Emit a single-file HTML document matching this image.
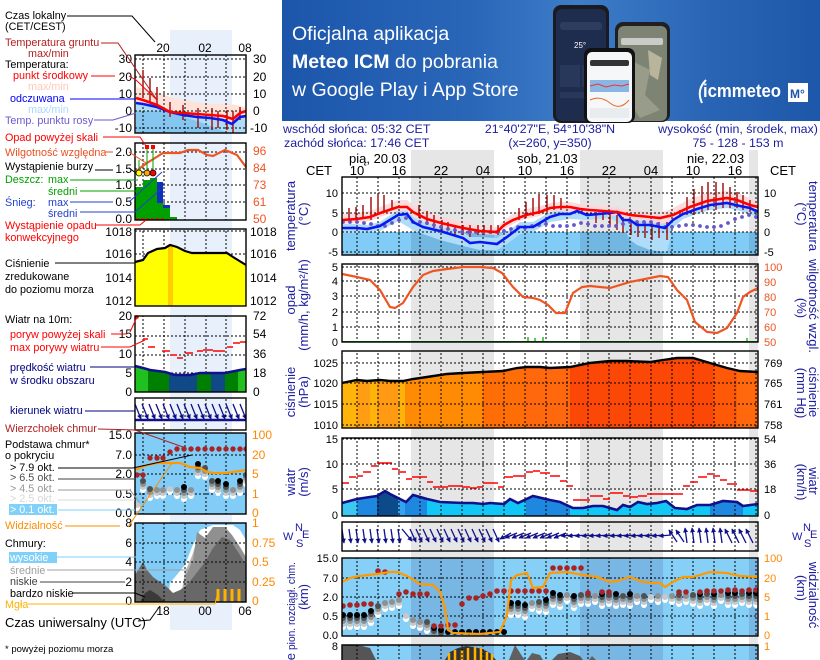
<!DOCTYPE html>
<html><head><meta charset="utf-8">
<style>
html,body{margin:0;padding:0;background:#fff;width:820px;height:660px;overflow:hidden;}
svg{display:block;}
text{font-family:"Liberation Sans",sans-serif;}
.lg{font-size:10.8px;}
.tk{font-size:11px;}
.mt{font-size:12px;}
.ax{font-size:13px;fill:#1c1ca0;}
.hd{font-size:12.4px;fill:#1c1ca0;}
</style></head><body>
<svg width="820" height="660" viewBox="0 0 820 660" xmlns="http://www.w3.org/2000/svg" overflow="hidden">
<defs>
<linearGradient id="bg" x1="0" x2="1" y1="0" y2="0">
<stop offset="0" stop-color="#1b56ab"/><stop offset="0.35" stop-color="#2a66b8"/><stop offset="0.55" stop-color="#3d7dc8"/><stop offset="0.8" stop-color="#2964b4"/><stop offset="1" stop-color="#1d57a9"/>
</linearGradient>
<marker id="ah" viewBox="0 0 8 8" refX="7" refY="4" markerWidth="5" markerHeight="5" orient="auto" markerUnits="userSpaceOnUse"><path d="M0,0L8,4L0,8z" fill="#10108a"/></marker>
<clipPath id="cP1"><rect x="342" y="177" width="416" height="78"/></clipPath>
<clipPath id="cP2"><rect x="342" y="264" width="416" height="78"/></clipPath>
<clipPath id="cP3"><rect x="342" y="351" width="416" height="77"/></clipPath>
<clipPath id="cP4"><rect x="342" y="438" width="416" height="78"/></clipPath>
<clipPath id="cP5"><rect x="342" y="522" width="416" height="29"/></clipPath>
<clipPath id="cP6"><rect x="342" y="558" width="416" height="78"/></clipPath>
<clipPath id="cP7"><rect x="342" y="645" width="416" height="15"/></clipPath>
<clipPath id="cAll">
<rect x="342" y="177" width="416" height="78"/><rect x="342" y="264" width="416" height="78"/><rect x="342" y="351" width="416" height="77"/><rect x="342" y="438" width="416" height="78"/><rect x="342" y="522" width="416" height="29"/><rect x="342" y="558" width="416" height="78"/><rect x="342" y="645" width="416" height="15"/>
</clipPath>
<clipPath id="cPress"><polygon points="342,428 342,383 357,380 367,381 380,380 390,381 403,381 413,379 427,377 447,374 463,373 483,372 503,371 517,368 527,367 540,367 550,368 570,367 590,363 610,361 627,361 650,362 663,360 677,358 693,358 710,363 727,368 740,371 758,372 758,428"/></clipPath>
<clipPath id="cWind"><polygon points="342,516 342,503 357,499 370,497 377,496 385,491 390,494 406,502 413,495 427,499 440,502 463,503 473,503 483,504 490,503 504,504 510,499 518,503 533,496 550,500 560,502 573,508 583,508 593,506 603,506 617,510 623,505 630,507 638,502 647,504 657,503 666,501 675,508 687,509 697,505 710,505 723,501 737,502 743,506 758,504 758,516"/></clipPath>
<clipPath id="cmAll">
<rect x="135" y="55" width="111" height="78"/><rect x="135" y="143" width="111" height="77"/><rect x="135" y="229" width="111" height="77"/><rect x="135" y="316" width="111" height="76"/><rect x="135" y="398" width="111" height="32"/><rect x="135" y="433" width="111" height="81"/><rect x="135" y="523" width="111" height="79"/>
</clipPath>
<clipPath id="cmT"><rect x="135" y="55" width="111" height="78"/></clipPath>
<clipPath id="cmW"><polygon points="135,392 135,366 143,368 150,370 165,372 175,375 190,375 200,373 225,373 240,370 246,369 246,392"/></clipPath>
<clipPath id="cmC"><rect x="135" y="523" width="111" height="79"/></clipPath>
<clipPath id="cmD"><rect x="135" y="398" width="111" height="32"/></clipPath>
<clipPath id="cmB"><rect x="135" y="433" width="111" height="81"/></clipPath>
<g id="s0"><circle cy="12" r="3" fill="#fff"/><circle cy="9" r="3" fill="#c8c8c8"/><circle cy="6" r="3" fill="#909090"/><circle cy="3" r="3" fill="#505050"/><circle cy="0" r="3" fill="#000"/></g>
<g id="s1"><circle cy="9" r="3" fill="#fff"/><circle cy="6" r="3" fill="#c8c8c8"/><circle cy="3" r="3" fill="#909090"/><circle cy="0" r="3" fill="#505050"/></g>
<g id="s2"><circle cy="6" r="3" fill="#fff"/><circle cy="3" r="3" fill="#c8c8c8"/><circle cy="0" r="3" fill="#909090"/></g>
<g id="s3"><circle cy="3" r="3" fill="#fff"/><circle cy="0" r="3" fill="#c8c8c8"/></g>
<g id="sb"><circle cy="0" r="3" fill="#000"/></g>
</defs>

<!-- ===== BANNER ===== -->
<rect x="282" y="0" width="538" height="121" fill="url(#bg)"/>
<text x="292" y="40" font-size="19.5" fill="#fff">Oficjalna aplikacja</text>
<text x="292" y="68" font-size="19.5" fill="#fff"><tspan font-weight="bold">Meteo ICM</tspan> do pobrania</text>
<text x="292" y="96" font-size="19.5" fill="#fff">w Google Play i App Store</text>
<rect x="553" y="5" width="56" height="118" rx="8" fill="#1b1b1f"/>
<rect x="556" y="9" width="50" height="112" rx="6" fill="#1e2d4d"/>
<rect x="560" y="22" width="42" height="8" rx="3" fill="#2d3d5e"/>
<text x="574" y="48" font-size="8" fill="#fff">25°</text>
<rect x="560" y="65" width="20" height="22" fill="#27385a"/>
<rect x="582" y="65" width="20" height="22" fill="#27385a"/>
<rect x="560" y="92" width="42" height="6" fill="#27385a"/>
<rect x="615" y="22" width="55" height="100" rx="8" fill="#202024"/>
<rect x="618" y="26" width="49" height="95" rx="6" fill="#7d8474"/>
<rect x="621" y="38" width="42" height="7" rx="2" fill="#c9cbc6"/>
<path d="M630 60 L650 70 L645 95 L660 110 L640 118 L628 100Z" fill="#9a9c8a"/>
<path d="M648 50 L662 58 L658 80 L650 75Z" fill="#b8b59a"/>
<rect x="584" y="48" width="51" height="75" rx="7" fill="#121214"/>
<rect x="587" y="52" width="45" height="70" rx="5" fill="#f6f7f9"/>
<rect x="590" y="60" width="39" height="6" rx="2" fill="#333"/>
<rect x="590" y="80" width="39" height="12" fill="#8ab6e4"/>
<path d="M590 86 L598 84 L606 87 L614 85 L622 86 L629 84" stroke="#e33" stroke-width="1" fill="none"/>
<path d="M590 100 Q600 95 610 103 T629 100" stroke="#e86a2a" stroke-width="1" fill="none"/>
<rect x="590" y="108" width="39" height="10" fill="#e8ecef"/>
<path d="M706 80 Q696 90 702 103" stroke="#fff" stroke-width="2" fill="none"/>
<text x="703" y="97" font-size="18" font-weight="bold" fill="#fff" textLength="78" lengthAdjust="spacingAndGlyphs">icmmeteo</text>
<rect x="788" y="83" width="20" height="19" fill="#fff"/>
<text x="790" y="98" font-size="12" font-weight="bold" fill="#1d57a9">M°</text>

<!-- ===== HEADER TEXT ===== -->
<text class="hd" x="283" y="133">wschód słońca: 05:32 CET</text>
<text class="hd" x="284" y="147">zachód słońca: 17:46 CET</text>
<text class="hd" x="550" y="133" text-anchor="middle">21°40'27"E, 54°10'38"N</text>
<text class="hd" x="550" y="147" text-anchor="middle">(x=260,  y=350)</text>
<text class="hd" x="738" y="133" text-anchor="middle">wysokość (min, środek, max)</text>
<text class="hd" x="738" y="147" text-anchor="middle">75 - 128 - 153 m</text>

<rect x="411" y="150" width="83" height="510" fill="#e6e6e6"/>
<rect x="580" y="150" width="83" height="510" fill="#e6e6e6"/>
<rect x="749" y="150" width="9" height="510" fill="#e6e6e6"/>

<g font-size="13" fill="#000">
<text x="349" y="163">pią, 20.03</text>
<text x="517" y="163">sob, 21.03</text>
<text x="687" y="163">nie, 22.03</text>
<text x="332" y="175" text-anchor="end">CET</text>
<text x="770" y="175">CET</text>
<g text-anchor="middle">
<text x="357" y="175">10</text><text x="399" y="175">16</text><text x="441" y="175">22</text><text x="483" y="175">04</text><text x="525" y="175">10</text><text x="567" y="175">16</text><text x="609" y="175">22</text><text x="651" y="175">04</text><text x="693" y="175">10</text><text x="735" y="175">16</text>
</g></g>

<!-- ===== P1 TEMPERATURE ===== -->
<g clip-path="url(#cP1)">
<rect x="342" y="232" width="416" height="23" fill="#80ccf6"/>
<rect x="411" y="232" width="83" height="23" fill="#72b6e2"/>
<rect x="580" y="232" width="83" height="23" fill="#72b6e2"/>
<rect x="749" y="232" width="9" height="23" fill="#72b6e2"/>
<polygon fill="#aedcf9" points="342,224 357,224 367,225 380,222 398,210 407,209 413,217 423,222 440,226 463,232 470,237 480,237 497,238 507,232 520,222 533,222 550,212 560,209 570,209 577,206 587,210 610,208 617,207 623,214 630,214 637,219 650,219 660,221 665,222 673,212 683,207 697,203 710,200 727,198 740,201 750,203 758,207 758,217 740,211 727,208 710,210 697,214 683,219 673,228 667,252 650,250 637,245 630,240 623,226 610,218 587,220 570,219 550,222 533,232 520,234 507,244 497,250 480,250 463,246 440,240 423,234 413,230 398,221 380,231 357,233 342,233"/>
<polygon fill="#ffd6d6" fill-opacity="0.85" points="342,214 357,213 370,211 383,206 398,200 407,200 413,205 427,212 441,217 463,222 480,226 497,227 504,220 513,214 526,209 540,206 550,203 560,202 570,202 580,204 590,205 617,207 630,210 650,212 660,213 673,208 690,199 707,193 727,191 737,193 750,198 758,201 758,211 750,210 737,206 727,205 707,207 690,212 673,222 660,224 650,222 630,220 617,216 590,214 580,213 560,211 550,212 540,216 526,219 513,224 504,229 497,235 480,234 463,232 441,227 427,223 413,216 407,211 398,211 383,216 370,221 357,223 342,224"/>
</g>
<g clip-path="url(#cPress)">
<rect x="342" y="351" width="15" height="77" fill="#ffb40a"/>
<rect x="357" y="351" width="13" height="77" fill="#ff9e12"/>
<rect x="370" y="351" width="7" height="77" fill="#ffb40a"/>
<rect x="377" y="351" width="21" height="77" fill="#ff9a12"/>
<rect x="398" y="351" width="7" height="77" fill="#ffb20a"/>
<rect x="405" y="351" width="78" height="77" fill="#ff8a04"/>
<rect x="483" y="351" width="43" height="77" fill="#ff6e06"/>
<rect x="526" y="351" width="44" height="77" fill="#ff680c"/>
<rect x="570" y="351" width="143" height="77" fill="#fb4806"/>
<rect x="713" y="351" width="24" height="77" fill="#ff5806"/>
<rect x="737" y="351" width="21" height="77" fill="#ff680c"/>
</g>
<g clip-path="url(#cWind)">
<rect x="342" y="438" width="416" height="78" fill="#12c6f6"/>
<rect x="342" y="438" width="15" height="78" fill="#3cc8f2"/>
<rect x="357" y="438" width="20" height="78" fill="#1e88e0"/>
<rect x="377" y="438" width="21" height="78" fill="#0c4a8c"/>
<rect x="398" y="438" width="7" height="78" fill="#34a4ee"/>
<rect x="405" y="438" width="22" height="78" fill="#1e88e0"/>
<rect x="526" y="438" width="44" height="78" fill="#1e88e0"/>
<rect x="710" y="438" width="33" height="78" fill="#1e88e0"/>
</g>
<rect x="342" y="558" width="416" height="78" fill="#86cff7"/>
<rect x="411" y="558" width="83" height="78" fill="#78b6e4"/>
<rect x="580" y="558" width="83" height="78" fill="#78b6e4"/>
<rect x="749" y="558" width="9" height="78" fill="#78b6e4"/>
<rect x="342" y="645" width="416" height="15" fill="#86cff7"/>
<rect x="411" y="645" width="83" height="15" fill="#78b6e4"/>
<rect x="580" y="645" width="83" height="15" fill="#78b6e4"/>
<rect x="749" y="645" width="9" height="15" fill="#78b6e4"/>
<g clip-path="url(#cP7)">
<polygon fill="#555" points="342,660 342,646 350,645 362,646 370,648 376,660"/>
<polygon fill="#333" points="445,660 450,652 458,648 466,646 474,647 482,649 490,653 496,660"/>
<path d="M449 653V660M455 650V660M462 650V660M468 648V660M475 647V660M481 648V660M487 652V660M492 654V660" stroke="#ffb000" stroke-width="2.5"/>
<polygon fill="#606060" points="509,660 515,645 522,656 525,660"/>
<polygon fill="#606060" points="527,660 532,653 540,655 543,660"/>
<polygon fill="#5a5a5a" points="552,660 558,654 570,652 580,656 583,660"/>
<polygon fill="#606060" points="589,660 592,656 596,660"/>
</g>

<g clip-path="url(#cAll)" stroke="#000" stroke-width="1" stroke-dasharray="2,2" fill="none">
<path d="M357 177V660M378 177V660M399 177V660M420 177V660M441 177V660M462 177V660M483 177V660M504 177V660M525 177V660M546 177V660M567 177V660M588 177V660M609 177V660M630 177V660M651 177V660M672 177V660M693 177V660M714 177V660M735 177V660M756 177V660"/>
<path d="M342 193H758M342 213H758M342 232H758M342 252H758M342 267H758M342 281H758M342 296H758M342 312H758M342 327H758M342 363H758M342 383H758M342 404H758M342 425H758M342 439H758M342 464H758M342 489H758M342 578H758M342 597H758M342 616H758"/>
</g>

<g clip-path="url(#cP1)">
<path d="M349 208V220M356 207V219M363 205V218M371 197V220M378 194V213M384 195V212M392 200V210M419 205V218M427 211V225M434 215V228M442 220V232M448 222V230M455 225V235M463 225V235M470 225V237M478 225V235M484 225V235M491 225V234M498 225V235M519 208V220M526 202V218M533 198V216M539 194V214M547 195V212M554 195V210M561 198V210M582 208V213M596 212V223M603 212V220M610 213V227M617 215V230M623 217V233M631 220V235M638 222V237M645 222V238M652 223V240M659 222V238M667 222V240M680 210V215M687 197V215M694 189V215M702 186V212M708 182V210M716 182V210M723 183V208M730 187V208M737 192V208M743 195V210M750 200V212" stroke="#a51515" stroke-width="1.5"/>
<path d="M343 222h0M350 222h0M357 222h0M364 223h0M371 224h0M378 226h0M385 226h0M392 223h0M399 220h0M406 218h0M413 222h0M420 222h0M427 223h0M434 225h0M441 227h0M448 229h0M455 230h0M462 232h0M469 232h0M476 232h0M483 232h0M490 232h0M497 232h0M504 231h0M511 229h0M518 227h0M525 228h0M532 226h0M539 225h0M546 224h0M553 226h0M560 226h0M567 226h0M574 225h0M581 223h0M588 224h0M595 226h0M602 226h0M609 226h0M616 226h0M623 224h0M630 222h0M637 222h0M644 222h0M651 222h0M658 224h0M665 227h0M672 227h0M679 226h0M686 225h0M693 225h0M700 226h0M707 227h0M714 227h0M721 226h0M728 223h0M735 219h0M742 217h0M749 215h0M756 217h0" stroke="#6655cc" stroke-width="3.8" stroke-linecap="round"/>
<polyline fill="none" stroke="#0a18f0" stroke-width="2.6" points="342,228 357,228 367,229 380,226 398,215 407,214 413,222 423,227 440,231 463,238 470,243 480,242 497,244 507,237 520,227 533,227 550,217 560,214 570,214 577,211 587,215 610,213 617,212 623,220 630,220 637,225 650,225 660,227 665,228 673,220 683,214 697,209 710,205 727,203 740,206 750,208 758,212"/>
<polyline fill="none" stroke="#ff0000" stroke-width="2.6" points="342,220 357,219 370,217 383,212 398,207 407,207 413,212 427,219 441,223 463,228 480,231 497,232 504,225 513,220 526,215 540,212 550,208 560,207 570,207 580,209 590,210 617,212 630,215 650,217 660,218 673,215 690,207 707,201 727,198 737,200 750,205 758,207"/>
</g>

<g clip-path="url(#cP2)">
<path d="M342 341.5H758" stroke="#00a000" stroke-width="1"/>
<path d="M528 337V342M535 338V342M543 337V342M747 338V342" stroke="#00a000" stroke-width="1.2"/>
<polyline fill="none" stroke="#ee5522" stroke-width="2.2" points="342,274 357,277 370,280 380,290 390,307 395,308 403,303 413,287 423,275 433,271 447,269 463,267 480,267 493,268 502,273 513,287 523,297 533,298 540,300 548,305 556,313 565,313 573,293 582,287 590,286 610,288 630,282 650,278 660,276 668,277 677,290 687,300 695,322 707,332 717,333 727,328 737,313 743,297 750,292 758,288"/>
</g>
<polyline clip-path="url(#cP3)" fill="none" stroke="#000" stroke-width="2.4" points="342,383 357,380 367,381 380,380 390,381 403,381 413,379 427,377 447,374 463,373 483,372 503,371 517,368 527,367 540,367 550,368 570,367 590,363 610,361 627,361 650,362 663,360 677,358 693,358 710,363 727,368 740,371 758,372"/>
<g clip-path="url(#cP4)">
<polyline fill="none" stroke="#10108a" stroke-width="2.6" points="342,503 357,499 370,497 377,496 385,491 390,494 406,502 413,495 427,499 440,502 463,503 473,503 483,504 490,503 504,504 510,499 518,503 533,496 550,500 560,502 573,508 583,508 593,506 603,506 617,510 623,505 630,507 638,502 647,504 657,503 666,501 675,508 687,509 697,505 710,505 723,501 737,502 743,506 758,504"/>
<path stroke="#ff0000" stroke-width="1.5" d="M342 483H349M349 477H356M357 476H363M363 472H371M371 466H377M377 463H392M392 469H398M398 472H406M406 479H412M412 477H427M427 482H433M433 487H448M448 486H462M462 487H470M470 488H477M477 487H483M483 483H498M498 487H504M504 477H513M513 476H526M526 472H533M533 471H540M540 473H550M550 476H560M560 481H567M567 486H573M573 500H590M590 496H603M603 499H610M610 493H623M623 496H630M630 497H638M638 496H647M647 494H673M673 494H683M683 486H690M690 482H698M698 477H707M707 474H713M713 476H720M720 480H727M727 484H737M737 490H750M750 491H758"/>
</g>
<g clip-path="url(#cP5)" stroke="#10108a" stroke-width="1.3" marker-end="url(#ah)">
<line x1="342" y1="529" x2="344" y2="543"/><line x1="349" y1="529" x2="351" y2="543"/><line x1="356" y1="529" x2="358" y2="543"/><line x1="363" y1="529" x2="365" y2="543"/><line x1="370" y1="529" x2="372" y2="543"/><line x1="377" y1="529" x2="379" y2="543"/><line x1="384" y1="529" x2="386" y2="543"/><line x1="391" y1="529" x2="393" y2="543"/><line x1="398" y1="529" x2="400" y2="543"/>
<line x1="402" y1="529" x2="412" y2="541"/><line x1="410" y1="529" x2="416" y2="542"/>
<line x1="416" y1="529" x2="422" y2="542"/><line x1="423" y1="529" x2="429" y2="542"/><line x1="430" y1="529" x2="436" y2="542"/><line x1="437" y1="529" x2="443" y2="542"/><line x1="444" y1="529" x2="450" y2="542"/><line x1="451" y1="529" x2="457" y2="542"/><line x1="458" y1="529" x2="464" y2="542"/><line x1="465" y1="529" x2="471" y2="542"/><line x1="472" y1="529" x2="478" y2="542"/><line x1="479" y1="529" x2="485" y2="542"/><line x1="486" y1="529" x2="492" y2="542"/><line x1="493" y1="529" x2="499" y2="542"/>
<line x1="511" y1="533" x2="500" y2="539"/>
<line x1="517" y1="533" x2="505" y2="538"/><line x1="524" y1="533" x2="512" y2="538"/><line x1="531" y1="533" x2="519" y2="538"/><line x1="538" y1="533" x2="526" y2="538"/><line x1="545" y1="533" x2="533" y2="538"/><line x1="552" y1="533" x2="540" y2="538"/><line x1="559" y1="533" x2="547" y2="538"/><line x1="566" y1="533" x2="554" y2="538"/>
<line x1="573" y1="535" x2="561" y2="536"/><line x1="580" y1="535" x2="568" y2="536"/><line x1="587" y1="535" x2="575" y2="536"/><line x1="594" y1="535" x2="582" y2="536"/><line x1="601" y1="535" x2="589" y2="536"/><line x1="608" y1="535" x2="596" y2="536"/><line x1="615" y1="535" x2="603" y2="536"/><line x1="622" y1="535" x2="610" y2="536"/><line x1="629" y1="535" x2="617" y2="536"/><line x1="636" y1="535" x2="624" y2="536"/><line x1="643" y1="535" x2="631" y2="536"/><line x1="650" y1="535" x2="638" y2="536"/><line x1="657" y1="535" x2="645" y2="536"/><line x1="664" y1="535" x2="652" y2="536"/><line x1="671" y1="535" x2="659" y2="536"/>
<line x1="677" y1="542" x2="669" y2="530"/><line x1="684" y1="542" x2="676" y2="530"/>
<line x1="687" y1="543" x2="685" y2="528"/><line x1="694" y1="543" x2="692" y2="528"/><line x1="701" y1="543" x2="699" y2="528"/><line x1="708" y1="543" x2="706" y2="528"/><line x1="715" y1="543" x2="713" y2="528"/><line x1="722" y1="543" x2="720" y2="528"/>
<line x1="732" y1="543" x2="725" y2="529"/><line x1="739" y1="543" x2="732" y2="529"/><line x1="746" y1="543" x2="739" y2="529"/><line x1="753" y1="543" x2="746" y2="529"/>
</g>
<g clip-path="url(#cP6)">
<use href="#s0" x="343" y="615"/><use href="#s0" x="350" y="615"/><use href="#s0" x="357" y="615"/><use href="#s0" x="364" y="615"/><use href="#s0" x="371" y="611"/><use href="#s1" x="378" y="606"/><use href="#s2" x="385" y="603"/><use href="#s2" x="392" y="602"/><use href="#s2" x="399" y="600"/><use href="#s3" x="406" y="616"/><use href="#s2" x="413" y="620"/><use href="#s2" x="420" y="622"/><use href="#s1" x="427" y="622"/><use href="#s0" x="434" y="628"/><use href="#s0" x="441" y="630"/><use href="#sb" x="448" y="632"/><use href="#sb" x="455" y="632"/><use href="#sb" x="462" y="632"/><use href="#sb" x="469" y="632"/><use href="#sb" x="476" y="632"/><use href="#sb" x="483" y="632"/><use href="#sb" x="490" y="632"/><use href="#sb" x="497" y="632"/><use href="#sb" x="504" y="632"/>
<use href="#s0" x="511" y="603"/><use href="#s0" x="518" y="603"/><use href="#s0" x="525" y="605"/><use href="#s2" x="532" y="603"/><use href="#s1" x="539" y="602"/><use href="#s0" x="546" y="600"/>
<use href="#s0" x="553" y="593"/><use href="#s0" x="560" y="595"/><use href="#s2" x="567" y="595"/><use href="#s0" x="574" y="596"/><use href="#s1" x="581" y="595"/><use href="#s1" x="588" y="595"/><use href="#s2" x="595" y="596"/><use href="#s0" x="602" y="594"/><use href="#s1" x="609" y="595"/><use href="#s0" x="616" y="594"/><use href="#s1" x="623" y="596"/><use href="#s0" x="630" y="594"/><use href="#s2" x="637" y="596"/><use href="#s1" x="644" y="596"/><use href="#s3" x="651" y="597"/><use href="#s2" x="658" y="596"/><use href="#s3" x="665" y="597"/><use href="#s2" x="672" y="596"/><use href="#s1" x="679" y="595"/><use href="#s2" x="686" y="596"/><use href="#s1" x="693" y="595"/><use href="#s0" x="700" y="594"/><use href="#s1" x="707" y="594"/><use href="#s0" x="714" y="594"/><use href="#s2" x="721" y="595"/><use href="#s0" x="728" y="593"/><use href="#s0" x="735" y="593"/><use href="#s1" x="742" y="594"/><use href="#s0" x="749" y="593"/><use href="#s0" x="756" y="593"/>
<path stroke="#a82424" stroke-width="5.6" stroke-linecap="round" d="M343 606h0M350 605h0M357 605h0M364 604h0M371 604h0M378 571h0M385 572h0M399 594h0M406 592h0M413 594h0M420 594h0M427 594h0M434 626h0M441 626h0M448 625h0M455 625h0M462 604h0M469 598h0M476 598h0M483 596h0M490 594h0M497 591h0M504 591h0M511 591h0M518 591h0M525 591h0M532 591h0M539 591h0M546 591h0M553 568h0M560 568h0M567 568h0M574 568h0M581 568h0M588 593h0M602 592h0M609 592h0M679 592h0M686 592h0M700 592h0M707 591h0M714 591h0M721 591h0M728 590h0M735 590h0M742 591h0M749 590h0M756 590h0"/>
<polyline fill="none" stroke="#ff9900" stroke-width="2.2" points="342,582 350,578 360,576 377,574 390,572 397,572 407,576 420,584 433,585 440,592 445,608 448,630 453,633 480,634 500,632 507,615 511,580 517,575 527,573 533,588 543,587 550,573 567,572 583,575 597,577 610,582 617,581 630,577 643,582 653,583 660,583 665,587 673,582 683,577 693,577 710,572 727,573 740,576 758,577"/>
</g>

<g fill="none" stroke="#000" stroke-width="1.4">
<rect x="342" y="177" width="416" height="78"/><rect x="342" y="264" width="416" height="78"/><rect x="342" y="351" width="416" height="77"/><rect x="342" y="438" width="416" height="78"/><rect x="342" y="522" width="416" height="29"/><rect x="342" y="558" width="416" height="78"/>
<path d="M342 660V645H758V660"/>
</g>

<g class="tk" fill="#000" text-anchor="end">
<text x="338" y="197">10</text><text x="338" y="217">5</text><text x="338" y="236">0</text><text x="338" y="256">-5</text>
<text x="338" y="271">5</text><text x="338" y="285">4</text><text x="338" y="300">3</text><text x="338" y="316">2</text><text x="338" y="331">1</text><text x="338" y="346">0</text>
<text x="338" y="367">1025</text><text x="338" y="387">1020</text><text x="338" y="408">1015</text><text x="338" y="429">1010</text>
<text x="338" y="443">15</text><text x="338" y="468">10</text><text x="338" y="493">5</text><text x="338" y="519">0</text>
<text x="338" y="562">15.0</text><text x="338" y="582">7.0</text><text x="338" y="601">2.0</text><text x="338" y="620">0.5</text><text x="338" y="639">0.0</text>
<text x="338" y="650">8</text>
</g>
<g class="tk" fill="#000">
<text x="764" y="197">10</text><text x="764" y="217">5</text><text x="764" y="236">0</text><text x="764" y="256">-5</text>
<text x="764" y="367">769</text><text x="764" y="387">765</text><text x="764" y="408">761</text><text x="764" y="429">758</text>
<text x="764" y="443">54</text><text x="764" y="468">36</text><text x="764" y="493">18</text><text x="764" y="519">0</text>
</g>
<g class="tk" fill="#ee5522">
<text x="764" y="271">100</text><text x="764" y="286">90</text><text x="764" y="301">80</text><text x="764" y="316">70</text><text x="764" y="331">60</text><text x="764" y="346">50</text>
</g>
<g class="tk" fill="#ff8800">
<text x="764" y="562">100</text><text x="764" y="582">20</text><text x="764" y="601">5</text><text x="764" y="620">1</text><text x="764" y="639">0</text><text x="764" y="650">1</text>
</g>

<g class="ax" text-anchor="middle">
<text transform="translate(295,216) rotate(-90)">temperatura</text>
<text transform="translate(308,214) rotate(-90)">(°C)</text>
<text transform="translate(295,300) rotate(-90)">opad</text>
<text transform="translate(308,305) rotate(-90)">(mm/h, kg/m²/h)</text>
<text transform="translate(295,392) rotate(-90)">ciśnienie</text>
<text transform="translate(308,392) rotate(-90)">(hPa)</text>
<text transform="translate(295,482) rotate(-90)">wiatr</text>
<text transform="translate(308,482) rotate(-90)">(m/s)</text>
<text transform="translate(308,597) rotate(-90)">(km)</text>
<text transform="translate(797,214) rotate(90)">(°C)</text>
<text transform="translate(809,216) rotate(90)">temperatura</text>
<text transform="translate(797,308) rotate(90)">(%)</text>
<text transform="translate(809,306) rotate(90)">wilgotność wzgl.</text>
<text transform="translate(797,393) rotate(90)">(mm Hg)</text>
<text transform="translate(809,392) rotate(90)">ciśnienie</text>
<text transform="translate(797,482) rotate(90)">(km/h)</text>
<text transform="translate(809,481) rotate(90)">wiatr</text>
<text transform="translate(797,588) rotate(90)">(km)</text>
<text transform="translate(809,595) rotate(90)">widzialność</text>
</g>
<text text-anchor="end" font-size="11" fill="#1c1ca0" transform="translate(295,562) rotate(-90)" textLength="88" lengthAdjust="spacingAndGlyphs">pion. rozciągł. chm.</text>
<text class="ax" text-anchor="end" transform="translate(295,653) rotate(-90)">e</text>
<g font-size="11" fill="#1c1ca0">
<text x="283" y="540">W</text><text x="295" y="531">N</text><text x="302" y="538">E</text><text x="296" y="547">S</text>
<text x="792" y="540">W</text><text x="803" y="531">N</text><text x="810" y="538">E</text><text x="804" y="547">S</text>
</g>

<!-- ===== MINI CHART ===== -->
<rect x="170" y="30" width="62" height="600" fill="#e8f0fc"/>
<text class="mt" x="163" y="52" text-anchor="middle">20</text>
<text class="mt" x="205" y="52" text-anchor="middle">02</text>
<text class="mt" x="245" y="52" text-anchor="middle">08</text>
<text class="mt" x="163" y="615" text-anchor="middle">18</text>
<text class="mt" x="205" y="615" text-anchor="middle">00</text>
<text class="mt" x="245" y="615" text-anchor="middle">06</text>

<g clip-path="url(#cmT)">
<polygon fill="#ffe2da" points="136,87 150,90 170,97 190,101 210,104 230,104 246,107 246,116 240,117 232,124 223,120 210,118 197,117 183,115 170,112 157,107 143,104 136,103"/>
<polygon fill="#b0dcf8" points="136,103 143,104 157,107 170,112 183,115 197,117 210,118 223,120 232,124 240,117 246,116 246,133 136,133"/>
<polygon fill="#84c6f0" points="136,111 165,111 200,122 228,133 136,133"/>
</g>
<g clip-path="url(#cmAll)" stroke="#000" stroke-width="1" stroke-dasharray="2,2" fill="none">
<path d="M143 55V602M164 55V602M185 55V602M206 55V602M226 55V602"/>
<path d="M135 59H246M135 77H246M135 94H246M135 111H246M135 128H246M135 152H246M135 169H246M135 185H246M135 202H246M135 231H246M135 254H246M135 278H246M135 301H246M135 336H246M135 355H246M135 373H246"/>
</g>
<g clip-path="url(#cmT)">
<path d="M143 70V98M150 78V103M157 87V106M170 102V117M183 105V120M198 108V128M212 108V130M218 111V128M227 110V130M233 111V133M240 107V120" stroke="#a51515" stroke-width="1.5"/>
<path d="M142 113h0M149 113h0M156 114h0M163 114h0M170 115h0M177 114h0M184 113h0M191 116h0M198 116h0M205 117h0M212 117h0M219 118h0M226 120h0M233 119h0M240 117h0" stroke="#6655cc" stroke-width="3.5"/>
<polyline fill="none" stroke="#0a18f0" stroke-width="2.6" points="136,103 143,104 157,107 170,112 183,115 197,117 210,118 223,120 232,124 240,117 246,116"/>
<polyline fill="none" stroke="#ff0000" stroke-width="2.6" points="136,98 143,100 157,105 170,112 183,113 197,114 210,115 223,116 233,119 240,113 246,111"/>
</g>
<rect x="135" y="187" width="8" height="33" fill="#00a000"/>
<rect x="143" y="180" width="7" height="40" fill="#00a000"/>
<rect x="150" y="178" width="7" height="42" fill="#00a000"/>
<rect x="157" y="203" width="6" height="17" fill="#00a000"/>
<rect x="157" y="182" width="6" height="21" fill="#1030c0"/>
<rect x="163" y="208" width="7" height="12" fill="#00a000"/>
<rect x="163" y="205" width="7" height="3" fill="#1030c0"/>
<rect x="170" y="217" width="7" height="3" fill="#00a000"/>
<path d="M136 219H166" stroke="#ff0000" stroke-width="1.5" stroke-dasharray="3,2"/>
<polyline fill="none" stroke="#ee5522" stroke-width="2.2" points="136,172 140,168 147,163 155,158 163,153 180,153 188,150 198,150 207,155 213,156 225,150 230,152 237,155 246,167"/>
<path d="M139 160V173M147 147V173M153 147V173" stroke="#00a000" stroke-width="1"/>
<rect x="145" y="145" width="4" height="4" fill="#ff0000"/><rect x="151" y="145" width="4" height="4" fill="#ff0000"/>
<circle cx="139" cy="173" r="3" fill="#ffff00" stroke="#000" stroke-width="0.8"/>
<circle cx="147" cy="173" r="3" fill="#ffa500" stroke="#000" stroke-width="0.8"/>
<circle cx="153" cy="173" r="3" fill="#ff0000" stroke="#000" stroke-width="0.8"/>
<polygon fill="#ffff00" points="135,262 143,260 148,253 157,249 165,248 170,245 177,247 185,251 192,253 227,253 233,257 246,265 246,306 135,306"/>
<rect x="168" y="246" width="5" height="60" fill="#ffcc00"/>
<polyline fill="none" stroke="#000" stroke-width="2.2" points="135,262 143,260 148,253 157,249 165,248 170,245 177,247 185,251 192,253 227,253 233,257 246,265"/>
<g clip-path="url(#cmW)">
<rect x="135" y="360" width="13" height="32" fill="#20c020"/>
<rect x="148" y="360" width="21" height="32" fill="#008000"/>
<rect x="169" y="360" width="28" height="32" fill="#104a86"/>
<rect x="197" y="360" width="14" height="32" fill="#008000"/>
<rect x="211" y="360" width="14" height="32" fill="#104a86"/>
<rect x="225" y="360" width="13" height="32" fill="#008000"/>
<rect x="238" y="360" width="8" height="32" fill="#20c020"/>
</g>
<polyline fill="none" stroke="#10108a" stroke-width="2.6" points="135,366 143,368 150,370 165,372 175,375 190,375 200,373 225,373 240,370 246,369"/>
<circle cx="137" cy="317" r="1.8" fill="#ff0000"/>
<path stroke="#ff0000" stroke-width="1.5" d="M143 339H148M148 347H155M162 351H170M170 355H177M177 358H183M185 353H193M197 351H203M203 350H213M213 351H225M227 347H233M233 343H240M240 342H246"/>
<g clip-path="url(#cmD)">
<path d="M135 420H246" stroke="#10108a" stroke-width="2.5"/>
<g stroke="#10108a" stroke-width="1.3" marker-end="url(#ah)">
<line x1="135" y1="404" x2="141" y2="419"/><line x1="142" y1="404" x2="148" y2="419"/><line x1="149" y1="404" x2="155" y2="419"/><line x1="156" y1="404" x2="162" y2="419"/><line x1="163" y1="404" x2="169" y2="419"/><line x1="170" y1="404" x2="176" y2="419"/><line x1="177" y1="404" x2="183" y2="419"/><line x1="184" y1="404" x2="190" y2="419"/><line x1="191" y1="404" x2="197" y2="419"/><line x1="198" y1="404" x2="204" y2="419"/><line x1="205" y1="404" x2="211" y2="419"/><line x1="212" y1="404" x2="218" y2="419"/><line x1="219" y1="404" x2="225" y2="419"/><line x1="226" y1="404" x2="232" y2="419"/><line x1="233" y1="404" x2="239" y2="419"/><line x1="240" y1="404" x2="246" y2="419"/>
</g></g>
<rect x="135" y="433" width="111" height="81" fill="#82cdf7"/>
<g clip-path="url(#cmB)">
<path d="M143 433V514M164 433V514M185 433V514M206 433V514M226 433V514M135 455H246M135 474H246M135 494H246" stroke="#000" stroke-dasharray="2,2" fill="none"/>
<path stroke="#a82424" stroke-width="5.4" stroke-linecap="round" d="M137 475h0M143 475h0M150 458h0M157 458h0M163 458h0M170 452h0M177 449h0M184 449h0M191 449h0M198 449h0M205 449h0M212 449h0M219 449h0M226 449h0M233 449h0M240 449h0M246 449h0"/>
<use href="#s3" x="137" y="505"/><use href="#s1" x="143" y="481"/><use href="#s1" x="150" y="489"/><use href="#s2" x="157" y="490"/><use href="#s2" x="163" y="490"/><use href="#s3" x="170" y="489"/><use href="#s2" x="177" y="490"/><use href="#s0" x="184" y="487"/><use href="#s2" x="191" y="490"/><use href="#s0" x="198" y="464"/><use href="#s1" x="205" y="468"/><use href="#s1" x="212" y="481"/><use href="#s0" x="218" y="481"/><use href="#s0" x="226" y="484"/><use href="#s2" x="233" y="490"/><use href="#s0" x="240" y="481"/><use href="#s1" x="246" y="475"/>
<polyline fill="none" stroke="#ff9900" stroke-width="2.2" points="135,470 147,465 157,463 180,463 190,467 200,468 207,472 213,473 227,473 233,472 246,470"/>
</g>
<rect x="135" y="523" width="111" height="79" fill="#82cdf7"/>
<g clip-path="url(#cmC)">
<polygon fill="#fff" points="168,602 170,583 185,565 192,547 197,537 200,530 213,525 233,525 240,530 246,540 246,602"/>
<polygon fill="#b4b4b4" points="180,602 185,572 192,556 197,540 205,545 213,535 246,560 246,602"/>
<polygon fill="#909090" points="185,602 186,575 193,560 197,532 205,538 213,527 225,527 232,535 240,547 246,557 246,602"/>
<polygon fill="#686868" points="135,602 135,575 140,567 143,562 147,570 153,577 160,582 167,587 173,593 180,590 187,585 195,575 205,562 213,548 222,537 230,540 240,555 246,565 246,602"/>
<polygon fill="#3a3a3a" points="140,602 145,593 150,590 158,595 165,602"/>
<path d="M143 523V602M164 523V602M185 523V602M206 523V602M226 523V602M135 543H246M135 562H246M135 582H246" stroke="#000" stroke-dasharray="2,2" fill="none"/>
<path d="M218 589V602M225 589V602M232 589V602M239 589V602" stroke="#ffb000" stroke-width="3"/>
</g>
<g fill="none" stroke="#000" stroke-width="1.4">
<rect x="135" y="55" width="111" height="78"/><rect x="135" y="143" width="111" height="77"/><rect x="135" y="229" width="111" height="77"/><rect x="135" y="316" width="111" height="76"/><rect x="135" y="398" width="111" height="32"/><rect x="135" y="433" width="111" height="81"/><rect x="135" y="523" width="111" height="79"/>
</g>
<g class="mt" fill="#000" text-anchor="end">
<text x="132" y="63">30</text><text x="132" y="81">20</text><text x="132" y="98">10</text><text x="132" y="115">0</text><text x="132" y="132">-10</text>
<text x="132" y="156">2.0</text><text x="132" y="173">1.5</text><text x="132" y="189">1.0</text><text x="132" y="206">0.5</text><text x="132" y="223">0.0</text>
<text x="132" y="236">1018</text><text x="132" y="258">1016</text><text x="132" y="282">1014</text><text x="132" y="305">1012</text>
<text x="132" y="320">20</text><text x="132" y="338">15</text><text x="132" y="358">10</text><text x="132" y="377">5</text><text x="132" y="396">0</text>
<text x="132" y="439">15.0</text><text x="132" y="459">7.0</text><text x="132" y="478">2.0</text><text x="132" y="498">0.5</text><text x="132" y="517">0.0</text>
<text x="132" y="527">8</text><text x="132" y="547">6</text><text x="132" y="566">4</text><text x="132" y="586">2</text><text x="132" y="605">0</text>
</g>
<g class="mt" fill="#000">
<text x="253" y="63">30</text><text x="253" y="81">20</text><text x="253" y="98">10</text><text x="253" y="115">0</text><text x="250" y="132">-10</text>
<text x="250" y="236">1018</text><text x="250" y="258">1016</text><text x="250" y="282">1014</text><text x="250" y="305">1012</text>
<text x="253" y="320">72</text><text x="253" y="338">54</text><text x="253" y="358">36</text><text x="253" y="377">18</text><text x="253" y="396">0</text>
</g>
<g class="mt" fill="#ee5522">
<text x="253" y="155">96</text><text x="253" y="172">84</text><text x="253" y="189">73</text><text x="253" y="206">61</text><text x="253" y="223">50</text>
</g>
<g class="mt" fill="#ff8800">
<text x="252" y="439">100</text><text x="252" y="459">20</text><text x="252" y="478">5</text><text x="252" y="498">1</text><text x="252" y="517">0</text>
<text x="252" y="527">1</text><text x="252" y="547">0.75</text><text x="252" y="566">0.5</text><text x="252" y="586">0.25</text><text x="252" y="605">0</text>
</g>

<g class="lg">
<text x="5" y="19" fill="#000">Czas lokalny</text>
<text x="5" y="30" fill="#000">(CET/CEST)</text>
<text x="5" y="46" fill="#b41e1e">Temperatura gruntu</text>
<text x="28" y="57" fill="#b41e1e">max/min</text>
<text x="5" y="68" fill="#000">Temperatura:</text>
<text x="13" y="79" fill="#ff0000">punkt środkowy</text>
<text x="28" y="90" fill="#ffc8b8">max/min</text>
<text x="10" y="102" fill="#0000ff">odczuwana</text>
<text x="28" y="113" fill="#a8d8ff">max/min</text>
<text x="5" y="124" fill="#6a5acd">Temp. punktu rosy</text>
<text x="5" y="141" fill="#ff0000">Opad powyżej skali</text>
<text x="5" y="156" fill="#e85020">Wilgotność względna</text>
<text x="5" y="170" fill="#000">Wystąpienie burzy</text>
<text x="5" y="183" fill="#00a000">Deszcz:</text><text x="48" y="183" fill="#00a000">max</text>
<text x="48" y="195" fill="#00a000">średni</text>
<text x="5" y="206" fill="#2040d0">Śnieg:</text><text x="48" y="206" fill="#2040d0">max</text>
<text x="48" y="217" fill="#2040d0">średni</text>
<text x="5" y="229" fill="#ff0000">Wystąpienie opadu</text>
<text x="5" y="241" fill="#ff0000">konwekcyjnego</text>
<text x="5" y="267" fill="#000">Ciśnienie</text>
<text x="5" y="280" fill="#000">zredukowane</text>
<text x="5" y="293" fill="#000">do poziomu morza</text>
<text x="5" y="323" fill="#000">Wiatr na 10m:</text>
<text x="10" y="338" fill="#ff0000">poryw powyżej skali</text>
<text x="10" y="351" fill="#ff0000">max porywy wiatru</text>
<text x="10" y="371" fill="#000080">prędkość wiatru</text>
<text x="10" y="384" fill="#000080">w środku obszaru</text>
<text x="10" y="414" fill="#000080">kierunek wiatru</text>
<text x="5" y="432" fill="#b02020">Wierzchołek chmur</text>
<text x="5" y="448" fill="#000">Podstawa chmur*</text>
<text x="5" y="459" fill="#000">o pokryciu</text>
<text x="10" y="471" fill="#000">&gt; 7.9 okt.</text>
<text x="10" y="481" fill="#505050">&gt; 6.5 okt.</text>
<text x="10" y="492" fill="#999">&gt; 4.5 okt.</text>
<text x="10" y="502" fill="#d8d8d8">&gt; 2.5 okt.</text>
<rect x="9" y="504" width="48" height="11" fill="#80d0f8"/>
<text x="10" y="513" fill="#fff">&gt; 0.1 okt.</text>
<text x="5" y="529" fill="#ff8c00">Widzialność</text>
<text x="5" y="547" fill="#000">Chmury:</text>
<rect x="9" y="552" width="48" height="11" fill="#80d0f8"/>
<text x="10" y="561" fill="#fff">wysokie</text>
<text x="10" y="574" fill="#a0a0a0">średnie</text>
<text x="10" y="585" fill="#404040">niskie</text>
<text x="10" y="597" fill="#000">bardzo niskie</text>
<text x="5" y="608" fill="#ffb000">Mgła</text>
</g>
<text x="5" y="627" font-size="13" fill="#000">Czas uniwersalny (UTC)</text>
<text x="5" y="652" font-size="9.5" fill="#000">* powyżej poziomu morza</text>

<g fill="none" stroke-width="1">
<polyline stroke="#000" points="67,16 132,16 155,42"/>
<polyline stroke="#b41e1e" points="101,43 118,43 157,100"/>
<polyline stroke="#ff0000" points="91,76 115,76"/>
<polyline stroke="#ff0000" points="129,76 136,80 157,100"/>
<polyline stroke="#0000ff" points="70,99 136,99"/>
<polyline stroke="#6a5acd" points="94,120 113,120 136,113"/>
<polyline stroke="#ff0000" points="103,137 140,137 146,146"/>
<polyline stroke="#e85020" points="105,152 113,152"/>
<polyline stroke="#e85020" points="129,152 146,163"/>
<polyline stroke="#000" points="95,170 113,170"/>
<polyline stroke="#000" points="129,168 136,173"/>
<polyline stroke="#00a000" points="70,180 138,180"/>
<polyline stroke="#00a000" points="80,191 140,191"/>
<polyline stroke="#2040d0" points="70,202 113,202"/>
<polyline stroke="#2040d0" points="129,202 162,172"/>
<polyline stroke="#2040d0" points="80,212 135,212 160,190"/>
<polyline stroke="#ff0000" points="95,225 140,225 146,220"/>
<polyline stroke="#000" points="55,263 135,263"/>
<polyline stroke="#ff0000" points="111,334 127,334"/>
<polyline stroke="#ff0000" points="130,332 137,317"/>
<polyline stroke="#ff0000" points="101,347 130,347 145,340"/>
<polyline stroke="#000080" points="90,367 135,367"/>
<polyline stroke="#000080" points="85,411 135,411"/>
<polyline stroke="#b02020" points="98,429 135,430 183,447"/>
<polyline stroke="#000" points="58,468 133,468 192,455"/>
<polyline stroke="#404040" points="58,479 135,479"/>
<polyline stroke="#999" points="58,490 130,490 140,503"/>
<polyline stroke="#d8d8d8" points="58,500 135,500"/>
<polyline stroke="#80d0f8" points="58,510 135,510"/>
<polyline stroke="#ff8c00" points="65,526 120,526"/>
<polyline stroke="#ff8c00" points="128,527 172,463"/>
<polyline stroke="#80d0f8" points="57,557 185,557"/>
<polyline stroke="#a0a0a0" points="47,570 190,570"/>
<polyline stroke="#404040" points="40,582 125,582"/>
<polyline stroke="#000" points="73,593 135,593 145,597"/>
<polyline stroke="#ffb000" points="28,604 215,604 218,592"/>
<polyline stroke="#000" points="138,621 150,620 160,606"/>
</g>
</svg>
</body></html>
